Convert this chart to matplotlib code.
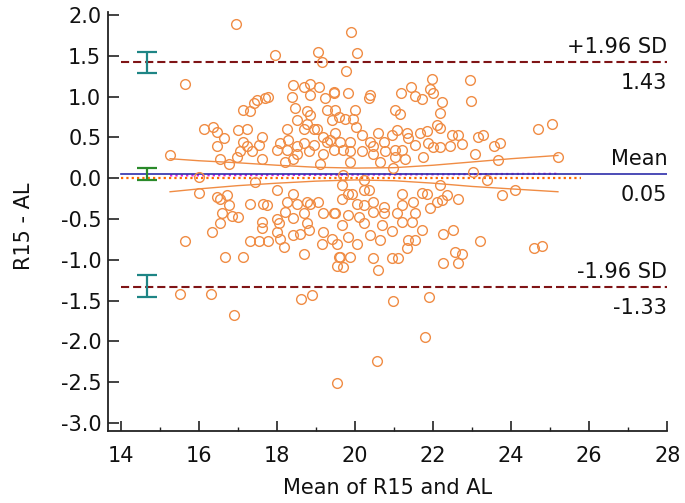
import matplotlib
matplotlib.use("Agg")
import matplotlib.pyplot as plt

plt.rcParams['font.family'] = ['DejaVu Sans']

# ---- data: mean of the two methods (x) and their difference (y) ----
means = [
    16.95, 19.90, 17.95, 19.05, 19.15, 20.06, 19.77, 15.65,
    18.42, 18.68, 18.85, 19.08, 19.45, 18.38, 18.85, 19.23, 17.78, 17.70, 17.48, 17.40,
    17.14, 17.31, 18.47, 18.76, 18.85, 19.28, 18.51, 19.40, 19.58, 18.76, 18.94, 16.12,
    16.37, 16.46, 17.01, 17.23, 16.63, 17.61, 18.25, 18.70, 19.02, 19.19, 16.46, 17.14,
    17.23, 17.53, 18.08, 18.29, 18.51, 18.68, 18.94, 19.28, 19.45, 17.06, 16.97, 16.54,
    17.36, 17.61, 17.99, 18.25, 18.42, 18.51, 18.81, 19.19, 16.76, 19.11, 18.21, 15.26,
    16.01, 17.44, 17.99, 15.99, 16.71, 16.54, 16.76, 17.31, 17.74, 18.25, 18.76, 18.42,
    19.06,
    19.45, 19.83, 20.39, 20.37, 21.18, 21.43, 21.54, 21.71, 21.92, 21.97, 22.01, 22.24,
    22.95, 22.97, 22.18, 21.03, 21.15, 19.49, 19.75, 20.00, 19.96, 20.03, 19.49, 22.09,
    22.18, 21.67, 21.84, 20.60, 21.07, 21.33, 20.94, 22.48, 22.65, 22.73, 22.43, 22.18,
    23.16, 23.29, 23.55, 23.72, 23.08, 23.67, 24.68, 25.06, 25.21, 19.36, 19.62, 19.87,
    20.17, 20.39, 20.73, 20.47, 20.17, 19.87, 19.70, 20.47, 20.77, 21.03, 21.20, 21.03,
    21.28, 21.54, 21.88, 21.75, 22.01, 21.37, 20.64, 19.87, 20.98, 19.70, 23.03, 23.37,
    24.10, 23.76, 20.22, 19.66, 22.18, 21.20, 21.71, 21.84, 22.35, 22.65, 20.47, 19.83,
    20.04, 20.73, 21.20, 21.49, 22.09,
    16.46, 16.59, 16.84, 17.01, 16.54, 16.33, 15.65, 17.65, 17.61, 17.61, 17.99, 18.04,
    17.99, 18.21, 18.42, 18.51, 18.68, 18.85, 19.19, 18.76, 19.45, 17.31, 17.53, 17.78,
    18.08, 18.17, 18.42, 18.59, 18.81, 19.15, 19.40, 19.19, 19.58, 19.53, 16.67, 17.14,
    18.68, 15.52, 16.30, 16.89, 18.61, 18.89, 19.53,
    19.92, 20.22, 20.37, 19.66, 20.22, 22.22, 21.92, 19.49, 19.83, 20.09, 20.47, 20.73,
    21.07, 21.54, 21.20, 21.45, 21.71, 19.66, 20.22, 20.68, 20.94, 20.39, 20.64, 19.53,
    19.83, 20.04, 21.37, 21.54, 21.33, 22.26, 22.52, 23.20, 22.56, 22.73, 22.26, 22.65,
    24.59, 24.78, 19.62, 19.87, 19.70, 20.47, 20.94, 21.11, 20.60, 20.97, 21.90, 21.80,
    20.56,
]
diffs = [
    1.89, 1.79, 1.51, 1.55, 1.42, 1.54, 1.31, 1.15,
    1.14, 1.12, 1.15, 1.12, 1.06, 1.00, 1.02, 0.98, 1.00, 0.98, 0.96, 0.92,
    0.84, 0.82, 0.86, 0.82, 0.77, 0.84, 0.71, 0.71, 0.75, 0.67, 0.61, 0.61,
    0.63, 0.57, 0.59, 0.61, 0.49, 0.51, 0.61, 0.61, 0.61, 0.51, 0.39, 0.45,
    0.39, 0.41, 0.43, 0.47, 0.39, 0.43, 0.41, 0.45, 0.35, 0.33, 0.26, 0.24,
    0.33, 0.24, 0.35, 0.35, 0.24, 0.30, 0.33, 0.30, 0.18, 0.18, 0.20, 0.28,
    0.02, -0.04, -0.14, -0.18, -0.20, -0.25, -0.33, -0.31, -0.33, -0.29, -0.29, -0.19,
    -0.29,
    1.04, 1.04, 1.02, 0.98, 1.04, 1.12, 1.01, 0.97, 1.10, 1.22, 1.05, 0.94,
    1.20, 0.95, 0.80, 0.84, 0.79, 0.84, 0.73, 0.84, 0.73, 0.63, 0.55, 0.65,
    0.62, 0.55, 0.58, 0.56, 0.59, 0.55, 0.53, 0.53, 0.53, 0.42, 0.39, 0.38,
    0.51, 0.53, 0.39, 0.43, 0.30, 0.22, 0.61, 0.66, 0.26, 0.47, 0.45, 0.45,
    0.53, 0.45, 0.45, 0.39, 0.33, 0.33, 0.35, 0.30, 0.33, 0.35, 0.35, 0.26,
    0.24, 0.41, 0.43, 0.26, 0.38, 0.49, 0.20, 0.20, 0.12, 0.04, 0.08, -0.02,
    -0.14, -0.21, -0.02, -0.08, -0.08, -0.19, -0.18, -0.19, -0.21, -0.25, -0.29, -0.19,
    -0.31, -0.35, -0.33, -0.29, -0.29,
    -0.23, -0.43, -0.46, -0.47, -0.55, -0.66, -0.77, -0.32, -0.53, -0.61, -0.50, -0.55,
    -0.66, -0.41, -0.49, -0.31, -0.43, -0.31, -0.43, -0.55, -0.43, -0.77, -0.77, -0.77,
    -0.74, -0.84, -0.70, -0.68, -0.63, -0.80, -0.74, -0.66, -0.96, -1.08, -0.96, -0.97,
    -0.93, -1.42, -1.42, -1.68, -1.48, -1.43, -2.51,
    -0.19, -0.14, -0.14, -0.25, -0.33, -0.27, -0.37, -0.43, -0.45, -0.47, -0.41, -0.43,
    -0.43, -0.43, -0.53, -0.53, -0.63, -0.57, -0.55, -0.57, -0.65, -0.70, -0.76, -0.80,
    -0.72, -0.80, -0.76, -0.76, -0.86, -0.68, -0.63, -0.77, -0.90, -0.93, -1.04, -1.04,
    -0.86, -0.83, -0.96, -0.96, -1.09, -0.98, -0.98, -0.98, -1.12, -1.51, -1.45, -1.94,
    -2.24,
]

# ---- summary statistics ----
mean_diff = 0.05
upper_loa = 1.43
lower_loa = -1.33
upper_loa_ci = [1.29, 1.55]
mean_ci = [-0.02, 0.13]
lower_loa_ci = [-1.45, -1.19]
ci_bar_x = 14.67

# regression of differences on means, with its 95% confidence band
reg_x = [15.26, 16, 17, 18, 19, 20, 21, 22, 23, 24, 25.2]
reg_upper = [0.24, 0.215, 0.19, 0.16, 0.135, 0.125, 0.13, 0.16, 0.20, 0.24, 0.28]
reg_lower = [-0.165, -0.13, -0.09, -0.06, -0.035, -0.02, -0.03, -0.06, -0.10, -0.13, -0.165]
reg_line_x = [15.26, 25.2]
reg_line_y = [0.035, 0.055]
zero_line_x = [14, 25.8]

line_x = [14, 28]
x_ticks = [14, 16, 18, 20, 22, 24, 26, 28]
x_minor = [15, 17, 19, 21, 23, 25, 27]
y_ticks = [-3.0, -2.5, -2.0, -1.5, -1.0, -0.5, 0.0, 0.5, 1.0, 1.5, 2.0]

# ---- colours ----
c_pts = '#F08C44'
c_loa = '#7F1416'
c_mean = '#2E2EAA'
c_zero = '#FF6A00'
c_reg = '#E020E0'
c_ci_loa = '#1E8585'
c_ci_mean = '#2A8A2A'
c_axis = '#222222'
c_text = '#111111'

fig = plt.figure(figsize=(6.85, 5.03), dpi=100)
ax = fig.add_axes([0.158, 0.143, 0.816, 0.833])

# reference lines
ax.plot(zero_line_x, [0, 0], color=c_zero, lw=1.6, linestyle=(0, (1, 1.4)), zorder=2)
ax.plot(reg_line_x, reg_line_y, color=c_reg, lw=1.6, linestyle=(0, (1, 1.4)), zorder=2)
ax.plot(line_x, [mean_diff, mean_diff], color=c_mean, lw=1.2, zorder=3)
ax.plot(line_x, [upper_loa, upper_loa], color=c_loa, lw=1.5, linestyle=(0, (3.9, 1.9)), zorder=3)
ax.plot(line_x, [lower_loa, lower_loa], color=c_loa, lw=1.5, linestyle=(0, (3.9, 1.9)), zorder=3)

# confidence band of the regression line
ax.plot(reg_x, reg_upper, color=c_pts, lw=1.0, zorder=3)
ax.plot(reg_x, reg_lower, color=c_pts, lw=1.0, zorder=3)

# data points
ax.plot(means, diffs, linestyle='none', marker='o', ms=7.0, mfc='none',
        mec=c_pts, mew=1.0, zorder=4)

# confidence intervals of the limits and the mean
def ci_bar(lo, hi, color):
    mid = (lo + hi) / 2
    ax.errorbar([ci_bar_x], [mid], yerr=[[mid - lo], [hi - mid]], fmt='none',
                ecolor=color, elinewidth=1.6, capsize=7.2, capthick=1.6, zorder=5)

ci_bar(*upper_loa_ci, c_ci_loa)
ci_bar(*mean_ci, c_ci_mean)
ci_bar(*lower_loa_ci, c_ci_loa)

# labels at the right end of the lines
fs = 15
def label(y, above, below):
    ax.annotate(above, xy=(28, y), xytext=(0, 6.5), textcoords='offset points',
                ha='right', va='baseline', fontsize=fs, color=c_text)
    ax.annotate(below, xy=(28, y), xytext=(0, -8), textcoords='offset points',
                ha='right', va='top', fontsize=fs, color=c_text)

label(upper_loa, '+1.96 SD', f'{upper_loa:.2f}')
label(mean_diff, 'Mean', f'{mean_diff:.2f}')
label(lower_loa, '-1.96 SD', f'{lower_loa:.2f}')

# axes styling
ax.set_xlim(13.675, 28.0)
ax.set_ylim(-3.098, 2.037)
ax.set_xticks(x_ticks)
ax.set_xticks(x_minor, minor=True)
ax.set_yticks(y_ticks)
ax.set_yticklabels([f'{v:.1f}' for v in y_ticks])
for s in ['top', 'right']:
    ax.spines[s].set_visible(False)
for s in ['left', 'bottom']:
    ax.spines[s].set_color(c_axis)
    ax.spines[s].set_linewidth(1.3)
ax.tick_params(axis='y', direction='in', length=8, width=1.2, color=c_axis,
               labelsize=fs, pad=5, labelcolor=c_text)
ax.tick_params(axis='x', which='major', direction='in', length=7, width=1.2,
               color=c_axis, labelsize=fs, pad=11, labelcolor=c_text)
ax.tick_params(axis='x', which='minor', direction='in', length=3, width=1.0, color=c_axis)

ax.set_xlabel('Mean of R15 and AL', fontsize=fs, color=c_text)
ax.set_ylabel('R15 - AL', fontsize=fs, color=c_text)
ax.yaxis.set_label_coords(-0.133, 0.49)
ax.xaxis.set_label_coords(0.5, -0.112)

fig.savefig('out.png', dpi=100)
